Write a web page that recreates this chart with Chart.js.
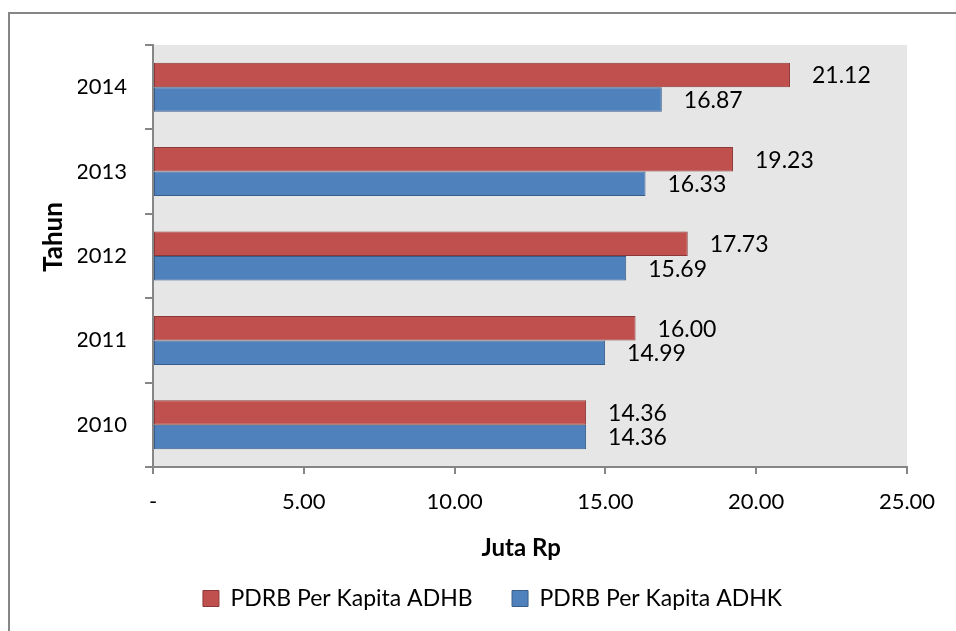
<!DOCTYPE html>
<html>
<head>
<meta charset="utf-8">
<script src="https://cdn.jsdelivr.net/npm/chart.js@4"></script>
<style>
  body { margin: 0; background: #fff; }
  canvas { display: block; }
</style>
</head>
<body>
<canvas id="myChart" width="956" height="631"></canvas>
<script>
const years = ['2010', '2011', '2012', '2013', '2014'];
const adhb = [14.36, 16.00, 17.73, 19.23, 21.12];
const adhk = [14.36, 14.99, 15.69, 16.33, 16.87];
const xTicks = [0, 5, 10, 15, 20, 25];

const fontName = 'Lato, "Open Sans", sans-serif';

// grey plot background + outer chart border
const backdrop = {
  id: 'backdrop',
  beforeDraw(chart) {
    const c = chart.ctx, a = chart.chartArea;
    c.save();
    c.fillStyle = '#ffffff';
    c.fillRect(0, 0, chart.width, chart.height);
    c.strokeStyle = '#868686';
    c.lineWidth = 2;
    c.strokeRect(9, 13, 1200, 1200);
    c.fillStyle = '#e6e6e6';
    c.fillRect(a.left, a.top, a.right - a.left, a.bottom - a.top);
    c.restore();
  }
};

// value labels to the right of each bar
const valueLabels = {
  id: 'valueLabels',
  afterDatasetsDraw(chart) {
    const c = chart.ctx;
    c.save();
    c.font = '23px ' + fontName;
    c.fillStyle = '#000';
    c.textBaseline = 'middle';
    c.textAlign = 'left';
    chart.data.datasets.forEach((ds, i) => {
      chart.getDatasetMeta(i).data.forEach((bar, j) => {
        c.fillText(ds.data[j].toFixed(2), bar.x + 22, bar.y + 1);
      });
    });
    c.restore();
  }
};

new Chart(document.getElementById('myChart'), {
  type: 'bar',
  data: {
    labels: years,
    datasets: [{
      label: 'PDRB Per Kapita ADHB',
      data: adhb,
      backgroundColor: '#c0504d',
      borderColor: '#8c3836',
      borderWidth: 1,
      borderSkipped: false
    }, {
      label: 'PDRB Per Kapita ADHK',
      data: adhk,
      backgroundColor: '#4f81bd',
      borderColor: '#385d8a',
      borderWidth: 1,
      borderSkipped: false
    }]
  },
  plugins: [backdrop, valueLabels],
  options: {
    indexAxis: 'y',
    responsive: false,
    animation: false,
    layout: { padding: { left: 78, top: 45, right: 49, bottom: 11 } },
    datasets: { bar: { categoryPercentage: 0.58, barPercentage: 1 } },
    plugins: {
      tooltip: { enabled: false },
      legend: {
        position: 'bottom',
        labels: {
          boxWidth: 16,
          boxHeight: 16,
          padding: 10,
          color: '#000',
          font: { family: fontName, size: 23 },
          generateLabels(chart) {
            const items = Chart.defaults.plugins.legend.labels.generateLabels(chart);
            // wider gap between the two entries, like the original
            items[0].text += '     ';
            return items;
          }
        }
      }
    },
    scales: {
      x: {
        min: 0,
        max: 25,
        afterBuildTicks(scale) { scale.ticks = xTicks.map(v => ({ value: v })); },
        afterFit(scale) { scale.height = 110; },
        ticks: {
          color: '#000',
          padding: 15,
          font: { family: fontName, size: 22 },
          callback: v => v === 0 ? '-' : v.toFixed(2)
        },
        grid: { drawOnChartArea: false, tickLength: 7, color: '#868686', lineWidth: 2 },
        border: { color: '#868686', width: 2 },
        title: {
          display: true,
          text: 'Juta Rp   ',
          color: '#000',
          font: { family: fontName, size: 24, weight: 'bold' },
          padding: { top: 0, bottom: 14 }
        }
      },
      y: {
        reverse: true,
        afterFit(scale) { scale.width = 75; },
        ticks: {
          color: '#000',
          padding: 18,
          font: { family: fontName, size: 22 }
        },
        grid: { drawOnChartArea: false, tickLength: 8, color: '#868686', lineWidth: 2, offset: true },
        border: { color: '#868686', width: 2 },
        title: {
          display: true,
          text: '      Tahun',
          color: '#000',
          font: { family: fontName, size: 26, weight: 'bold' },
          padding: { top: -40, bottom: 0 }
        }
      }
    }
  }
});
</script>
</body>
</html>
